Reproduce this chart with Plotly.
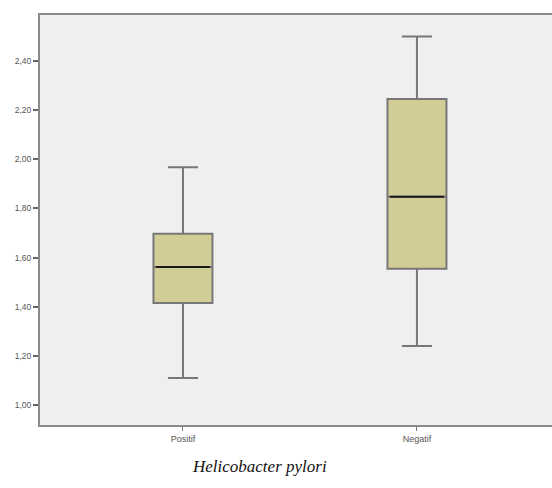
import plotly.graph_objects as go

categories = ["Positif", "Negatif"]
lower_whisker = [1.11, 1.24]
q1_vals = [1.415, 1.555]
median_vals = [1.562, 1.848]
q3_vals = [1.697, 2.245]
upper_whisker = [1.968, 2.50]
y_ticks = [1.00, 1.20, 1.40, 1.60, 1.80, 2.00, 2.20, 2.40]

xpos = list(range(len(categories)))
box_w = 0.252

fig = go.Figure()
fig.add_trace(go.Box(
    x=xpos, q1=q1_vals, median=median_vals, q3=q3_vals,
    lowerfence=lower_whisker, upperfence=upper_whisker,
    width=box_w, whiskerwidth=0.51,
    fillcolor="#d2cd96", line=dict(color="#777777", width=2),
    boxpoints=False, hoverinfo="skip", showlegend=False,
))
for i, m in zip(xpos, median_vals):
    fig.add_trace(go.Scatter(
        x=[i - box_w / 2 + 0.01, i + box_w / 2 - 0.01], y=[m, m], mode="lines",
        line=dict(color="#1a1a1a", width=2), showlegend=False, hoverinfo="skip",
    ))

fig.update_layout(
    width=566, height=488,
    margin=dict(l=40, r=0, t=15, b=63),
    paper_bgcolor="white", plot_bgcolor="#efefef",
    separators=", ",
    font=dict(family="Liberation Sans, Arial, sans-serif", size=8, color="#444444"),
)
fig.update_xaxes(
    range=[-0.611, 1.637], tickvals=xpos, ticktext=categories,
    showgrid=False, zeroline=False, showline=True, linecolor="#8a8a8a", linewidth=2,
    mirror=True, ticks="outside", ticklen=4, tickcolor="#777777",
    tickfont=dict(size=9, color="#555555"),
)
fig.update_yaxes(
    range=[0.919, 2.587], tickvals=y_ticks, tickformat=".2f",
    showgrid=False, zeroline=False, showline=True, linecolor="#8a8a8a", linewidth=2,
    ticks="outside", ticklen=5, tickcolor="#666666", tickwidth=2,
    tickfont=dict(size=8.5, color="#555555"),
)
fig.add_annotation(
    text="<i>Helicobacter pylori</i>", xref="paper", yref="paper",
    x=(259 - 40) / 526, y=-(466 - 425) / 410, xanchor="center", yanchor="middle",
    showarrow=False, font=dict(family="Liberation Serif, Times New Roman, serif", size=17, color="#111111"),
)
fig.write_html(
    "out.html",
    config={"displayModeBar": False},
    post_script="document.body.style.margin='0';document.body.style.overflow='hidden';",
)
